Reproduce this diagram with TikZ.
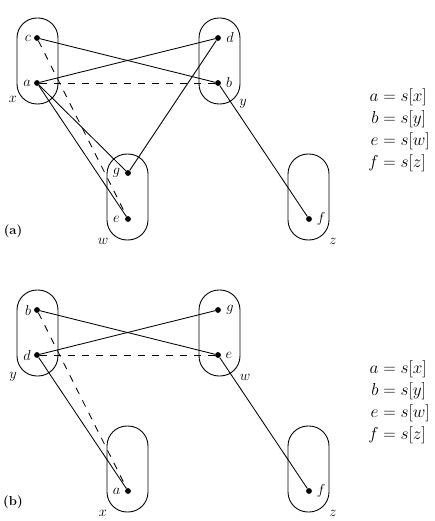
\documentclass[tikz,border=0pt]{standalone}
\usepackage{amsmath}
\begin{document}
\begin{tikzpicture}[x=1pt,y=-1pt,
  pt/.style={circle,fill=black,inner sep=0pt,minimum size=5.8pt},
  grp/.style={draw,line width=0.9pt,rounded corners=20pt,minimum width=41pt,minimum height=86pt,inner sep=0pt},
  tag/.style={font=\fontsize{15.5}{17}\selectfont,inner sep=0pt},
  edge/.style={line width=0.85pt},
  dedge/.style={line width=0.85pt,dash pattern=on 7pt off 7pt},
  panel/.style={font=\fontsize{13}{15}\selectfont\bfseries,inner sep=0pt},
  eqs/.style={font=\fontsize{16.5}{22}\selectfont,inner sep=0pt}]
\useasboundingbox (0,0) rectangle (434,521);

% ---------- panel (a) ----------
\node[grp] (Xa) at (37.5,61) {};
\node[grp] (Ya) at (219.5,61) {};
\node[grp] (Wa) at (127.5,197) {};
\node[grp] (Za) at (308.5,197) {};

\node[pt] (ca) at (37,38) {};
\node[pt] (aa) at (37,83) {};
\node[pt] (da) at (218,38) {};
\node[pt] (ba) at (218,83) {};
\node[pt] (ga) at (128,173) {};
\node[pt] (ea) at (128,219) {};
\node[pt] (fa) at (309,219) {};

\node[tag] (lca) at (28,38) {$c$};
\node[tag] (laa) at (27,83) {$a$};
\node[tag] (lda) at (230,38) {$d$};
\node[tag] (lba) at (229,83) {$b$};
\node[tag] (lga) at (116.5,173) {$g$};
\node[tag] (lea) at (116.5,219) {$e$};
\node[tag] (lfa) at (321,219) {$f$};

\node[tag] (lXa) at (13,99) {$x$};
\node[tag] (lYa) at (243,104) {$y$};
\node[tag] (lWa) at (103,241) {$w$};
\node[tag] (lZa) at (333,241) {$z$};

\node[panel] (pa) at (13,231) {(a)};

\draw[edge] (ca) -- (ba);
\draw[edge] (aa) -- (da);
\draw[dedge] (aa) -- (ba);
\draw[dedge] (ca) -- (ea);
\draw[edge] (aa) -- (ga);
\draw[edge] (aa) -- (ea);
\draw[edge] (da) -- (ga);
\draw[edge] (ba) -- (fa);

\node[eqs] (eqa) at (399,130.5) {$\begin{array}{@{}r@{\;=\;}l@{}}
a & s[x]\\ b & s[y]\\ e & s[w]\\ f & s[z]\end{array}$};

% ---------- panel (b) ----------
\node[grp] (Yb) at (37.5,333) {};
\node[grp] (Wb) at (219.5,333) {};
\node[grp] (Xb) at (127.5,469) {};
\node[grp] (Zb) at (308.5,469) {};

\node[pt] (bb) at (37,310) {};
\node[pt] (db) at (37,355) {};
\node[pt] (gb) at (218,310) {};
\node[pt] (eb) at (218,355) {};
\node[pt] (ab) at (128,491) {};
\node[pt] (fb) at (309,491) {};

\node[tag] (lbb) at (28,310) {$b$};
\node[tag] (ldb) at (27,355) {$d$};
\node[tag] (lgb) at (230,310) {$g$};
\node[tag] (leb) at (229,355) {$e$};
\node[tag] (lab) at (116.5,491) {$a$};
\node[tag] (lfb) at (321,491) {$f$};

\node[tag] (lYb) at (13,377) {$y$};
\node[tag] (lWb) at (245,377) {$w$};
\node[tag] (lXb) at (103,513) {$x$};
\node[tag] (lZb) at (333,513) {$z$};

\node[panel] (pb) at (13,502) {(b)};

\draw[edge] (bb) -- (eb);
\draw[edge] (db) -- (gb);
\draw[dedge] (db) -- (eb);
\draw[dedge] (bb) -- (ab);
\draw[edge] (db) -- (ab);
\draw[edge] (eb) -- (fb);

\node[eqs] (eqb) at (399,402) {$\begin{array}{@{}r@{\;=\;}l@{}}
a & s[x]\\ b & s[y]\\ e & s[w]\\ f & s[z]\end{array}$};
\end{tikzpicture}
\end{document}
